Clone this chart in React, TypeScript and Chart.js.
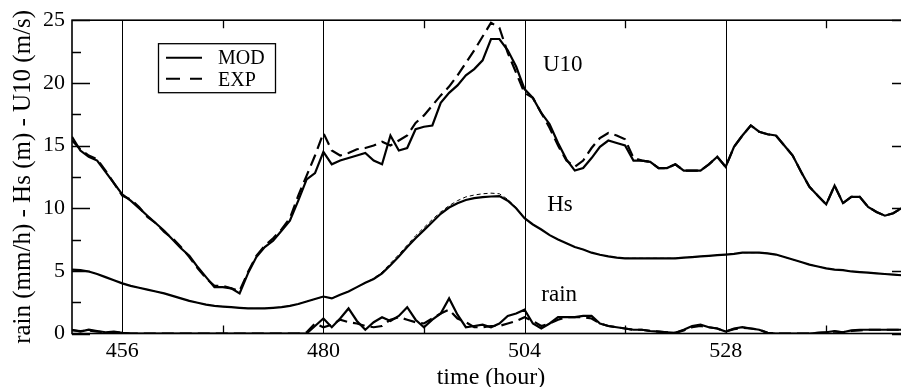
import React, { useEffect, useRef } from "react";
import { Chart, registerables } from "chart.js";

Chart.register(...registerables);

// ---------------- data ----------------
const X_MIN = 450;
const X_MAX = 550;
const X_MAJOR = [456, 480, 504, 528];
const X_MINOR = [468, 492, 516, 540];
const Y_MAJOR = [0, 5, 10, 15, 20, 25];
const Y_MINOR = [2.5, 7.5, 12.5, 17.5, 22.5];

const U10_MOD_T = [450, 451, 452, 453, 454, 455, 456, 457, 458, 459, 460, 461, 462, 463, 464, 465, 466, 467, 468, 469, 470, 471, 472, 473, 474, 475, 476, 477, 478, 479, 480, 481, 482, 483, 484, 485, 486, 487, 488, 489, 490, 491, 492, 493, 494, 495, 496, 497, 498, 499, 500, 501, 502, 503, 504, 505, 506, 507, 508, 509, 510, 511, 512, 513, 514, 515, 516, 517, 518, 519, 520, 521, 522, 523, 524, 525, 526, 527, 528, 529, 530, 531, 532, 533, 534, 535, 536, 537, 538, 539, 540, 541, 542, 543, 544, 545, 546, 547, 548, 549, 550];
const U10_MOD_V = [15.7, 14.6, 14.1, 13.8, 12.9, 12.0, 11.1, 10.6, 10.0, 9.4, 8.8, 8.2, 7.5, 6.8, 6.2, 5.3, 4.5, 3.7, 3.7, 3.6, 3.2, 4.8, 6.1, 6.9, 7.4, 8.2, 9.0, 10.6, 12.3, 12.8, 14.5, 13.5, 13.8, 14.0, 14.2, 14.4, 13.8, 13.5, 15.8, 14.6, 14.8, 16.3, 16.5, 16.6, 18.4, 19.2, 19.8, 20.6, 21.1, 21.8, 23.5, 23.5, 22.6, 21.3, 19.5, 18.8, 17.6, 16.7, 15.2, 13.9, 13.0, 13.2, 14.0, 14.9, 15.4, 15.2, 15.0, 13.8, 13.8, 13.7, 13.2, 13.2, 13.5, 13.0, 13.0, 13.0, 13.5, 14.1, 13.3, 14.9, 15.8, 16.6, 16.1, 15.9, 15.8, 15.0, 14.2, 12.9, 11.7, 11.0, 10.3, 11.8, 10.4, 10.9, 10.9, 10.1, 9.7, 9.4, 9.6, 10.0, 10.3];

const U10_EXP_T = U10_MOD_T;
const U10_EXP_V = [15.4, 14.7, 14.2, 13.9, 13.0, 12.0, 11.0, 10.7, 10.1, 9.3, 8.8, 8.1, 7.6, 6.9, 6.1, 5.2, 4.4, 3.8, 3.8, 3.6, 3.4, 4.9, 6.2, 7.0, 7.6, 8.3, 9.2, 11.0, 12.6, 14.2, 16.0, 14.6, 14.2, 14.4, 14.7, 14.8, 15.0, 15.3, 15.0, 15.4, 15.8, 16.8, 17.4, 18.2, 19.0, 19.7, 20.6, 21.6, 22.6, 23.7, 24.8, 24.4, 22.4, 20.8, 19.2, 18.8, 17.6, 16.4, 15.0, 13.8, 13.3, 13.8, 14.8, 15.6, 16.0, 15.8, 15.5, 14.0, 13.8, 13.7, 13.2, 13.2, 13.5, 13.0, 13.0, 13.0, 13.5, 14.1, 13.3, 14.9, 15.8, 16.6, 16.1, 15.9, 15.8, 15.0, 14.2, 12.9, 11.7, 11.0, 10.3, 11.8, 10.4, 10.9, 10.9, 10.1, 9.7, 9.4, 9.6, 10.0, 10.3];

const HS_T = U10_MOD_T;
const HS_MOD_V = [5.1, 5.05, 4.95, 4.75, 4.5, 4.25, 4.0, 3.8, 3.65, 3.5, 3.35, 3.2, 3.0, 2.8, 2.6, 2.45, 2.3, 2.2, 2.15, 2.1, 2.05, 2.0, 2.0, 2.0, 2.05, 2.1, 2.2, 2.35, 2.55, 2.75, 2.95, 2.8, 3.1, 3.35, 3.7, 4.05, 4.35, 4.8, 5.45, 6.15, 6.9, 7.6, 8.25, 8.9, 9.55, 10.05, 10.4, 10.65, 10.8, 10.88, 10.93, 10.96, 10.6, 10.0, 9.2, 8.7, 8.3, 7.85, 7.5, 7.2, 6.9, 6.7, 6.45, 6.28, 6.15, 6.05, 6.0, 6.0, 6.0, 6.0, 6.0, 6.0, 6.0, 6.05, 6.1, 6.15, 6.2, 6.25, 6.3, 6.35, 6.45, 6.45, 6.45, 6.4, 6.3, 6.1, 5.9, 5.7, 5.5, 5.35, 5.2, 5.1, 5.05, 4.95, 4.9, 4.85, 4.8, 4.75, 4.7, 4.65, 4.6];
const HS_EXP_V = [5.1, 5.05, 4.95, 4.75, 4.5, 4.25, 4.0, 3.8, 3.65, 3.5, 3.35, 3.2, 3.0, 2.8, 2.6, 2.45, 2.3, 2.2, 2.15, 2.1, 2.05, 2.0, 2.0, 2.0, 2.05, 2.1, 2.2, 2.35, 2.55, 2.75, 2.95, 2.8, 3.1, 3.35, 3.7, 4.05, 4.4, 4.9, 5.6, 6.3, 7.05, 7.8, 8.45, 9.1, 9.7, 10.2, 10.6, 10.9, 11.05, 11.15, 11.2, 11.15, 10.7, 10.05, 9.25, 8.7, 8.3, 7.85, 7.5, 7.2, 6.9, 6.7, 6.45, 6.28, 6.15, 6.05, 6.0, 6.0, 6.0, 6.0, 6.0, 6.0, 6.0, 6.05, 6.1, 6.15, 6.2, 6.25, 6.3, 6.35, 6.45, 6.45, 6.45, 6.4, 6.3, 6.1, 5.9, 5.7, 5.5, 5.35, 5.2, 5.1, 5.05, 4.95, 4.9, 4.85, 4.8, 4.75, 4.7, 4.65, 4.6];

const RAIN_T = U10_MOD_T;
const RAIN_MOD_V = [0.3, 0.15, 0.3, 0.2, 0.1, 0.15, 0.05, 0, 0, 0, 0, 0, 0, 0, 0, 0, 0, 0, 0, 0, 0, 0, 0, 0, 0, 0, 0, 0, 0, 0.6, 1.2, 0.5, 1.2, 2.0, 1.0, 0.3, 0.9, 1.3, 1.0, 1.4, 2.1, 1.1, 0.5, 1.1, 1.6, 2.8, 1.5, 0.5, 0.6, 0.7, 0.5, 0.8, 1.4, 1.6, 1.9, 0.8, 0.4, 0.8, 1.3, 1.3, 1.3, 1.4, 1.4, 0.8, 0.6, 0.5, 0.4, 0.3, 0.3, 0.2, 0.15, 0.1, 0.05, 0.3, 0.6, 0.7, 0.5, 0.4, 0.15, 0.4, 0.5, 0.4, 0.3, 0.05, 0, 0, 0, 0, 0, 0.05, 0.1, 0.2, 0.1, 0.25, 0.3, 0.3, 0.3, 0.3, 0.3, 0.3, 0.3];
const RAIN_EXP_V = [0.25, 0.2, 0.25, 0.15, 0.1, 0.1, 0.05, 0, 0, 0, 0, 0, 0, 0, 0, 0, 0, 0, 0, 0, 0, 0, 0, 0, 0, 0, 0, 0, 0.1, 0.8, 0.5, 0.7, 1.1, 0.9, 0.8, 0.6, 0.5, 0.6, 1.1, 1.3, 1.1, 0.9, 0.8, 1.2, 1.6, 1.9, 1.2, 0.9, 0.5, 0.5, 0.6, 0.6, 0.8, 1.0, 1.3, 1.0, 0.6, 0.8, 1.1, 1.3, 1.3, 1.3, 1.2, 0.8, 0.6, 0.5, 0.4, 0.3, 0.3, 0.2, 0.15, 0.1, 0.05, 0.25, 0.5, 0.6, 0.5, 0.4, 0.15, 0.35, 0.45, 0.4, 0.3, 0.05, 0, 0, 0, 0, 0, 0.05, 0.1, 0.15, 0.1, 0.2, 0.25, 0.3, 0.3, 0.3, 0.3, 0.3, 0.3];

const CURVE_LABELS = [
  { text: "U10", x: 506.2, y: 21.4 },
  { text: "Hs", x: 506.7, y: 10.25 },
  { text: "rain", x: 506.0, y: 3.07 },
];
const LEGEND_ITEMS = ["MOD", "EXP"];

const SERIF = "'Liberation Serif', 'Times New Roman', serif";

const pts = (t: number[], v: number[]) => t.map((x, i) => ({ x, y: v[i] }));

const framePlugin = {
  id: "frame",
  beforeDatasetsDraw(chart: any) {
    const { ctx, chartArea: a, scales } = chart;
    const xs = scales.x;
    const ys = scales.y;
    ctx.save();
    ctx.strokeStyle = "#000";
    // vertical reference lines
    ctx.lineWidth = 1;
    X_MAJOR.forEach((v) => {
      const px = Math.round(xs.getPixelForValue(v)) + 0.5;
      ctx.beginPath();
      ctx.moveTo(px, a.top);
      ctx.lineTo(px, a.bottom);
      ctx.stroke();
    });
    ctx.lineWidth = 1.3;
    // x minor ticks, bottom and top
    X_MINOR.forEach((v) => {
      const px = Math.round(xs.getPixelForValue(v)) + 0.5;
      ctx.beginPath();
      ctx.moveTo(px, a.bottom);
      ctx.lineTo(px, a.bottom - 8);
      ctx.moveTo(px, a.top);
      ctx.lineTo(px, a.top + 8);
      ctx.stroke();
    });
    // y ticks, left and right
    Y_MAJOR.forEach((v) => {
      const py = Math.round(ys.getPixelForValue(v)) + 0.5;
      ctx.beginPath();
      ctx.moveTo(a.left, py);
      ctx.lineTo(a.left + 18, py);
      ctx.moveTo(a.right, py);
      ctx.lineTo(a.right - 18, py);
      ctx.stroke();
    });
    Y_MINOR.forEach((v) => {
      const py = Math.round(ys.getPixelForValue(v)) + 0.5;
      ctx.beginPath();
      ctx.moveTo(a.left, py);
      ctx.lineTo(a.left + 9, py);
      ctx.moveTo(a.right, py);
      ctx.lineTo(a.right - 9, py);
      ctx.stroke();
    });
    ctx.restore();
  },
  afterDraw(chart: any) {
    const { ctx, chartArea: a, scales } = chart;
    ctx.save();
    ctx.strokeStyle = "#000";
    ctx.lineWidth = 1.6;
    ctx.strokeRect(a.left, a.top, a.right - a.left, a.bottom - a.top);

    // curve labels
    ctx.fillStyle = "#000";
    ctx.font = `23px ${SERIF}`;
    ctx.textAlign = "left";
    ctx.textBaseline = "middle";
    CURVE_LABELS.forEach((l) => {
      ctx.fillText(l.text, scales.x.getPixelForValue(l.x), scales.y.getPixelForValue(l.y));
    });

    // legend box
    const bx = a.left + 86;
    const by = a.top + 23;
    ctx.fillStyle = "#fff";
    ctx.fillRect(bx, by, 117, 49);
    ctx.lineWidth = 1.3;
    ctx.strokeRect(bx + 0.5, by + 0.5, 117, 49);
    ctx.lineWidth = 2;
    ctx.beginPath();
    ctx.moveTo(bx + 8, by + 14.5);
    ctx.lineTo(bx + 44, by + 14.5);
    ctx.stroke();
    ctx.setLineDash([14, 10]);
    ctx.beginPath();
    ctx.moveTo(bx + 8, by + 35.5);
    ctx.lineTo(bx + 44, by + 35.5);
    ctx.stroke();
    ctx.setLineDash([]);
    ctx.fillStyle = "#000";
    ctx.font = `20px ${SERIF}`;
    ctx.textBaseline = "middle";
    ctx.fillText(LEGEND_ITEMS[0], bx + 60, by + 16);
    ctx.fillText(LEGEND_ITEMS[1], bx + 60, by + 38);
    ctx.restore();
  },
};

export default function App() {
  const ref = useRef<HTMLCanvasElement | null>(null);
  useEffect(() => {
    if (!ref.current) return;
    const solid = (data: any[], w = 2.2) => ({
      data,
      borderColor: "#000",
      borderWidth: w,
      pointRadius: 0,
      tension: 0,
      fill: false,
    });
    const dashed = (data: any[], w = 2.2, dash = [12, 6]) => ({
      ...solid(data, w),
      borderDash: dash,
    });
    const chart = new Chart(ref.current, {
      type: "line",
      data: {
        datasets: [
          { label: "U10 EXP", ...dashed(pts(U10_EXP_T, U10_EXP_V)) },
          { label: "U10 MOD", ...solid(pts(U10_MOD_T, U10_MOD_V)) },
          { label: "Hs EXP", ...dashed(pts(HS_T, HS_EXP_V), 1, [4, 3]) },
          { label: "Hs MOD", ...solid(pts(HS_T, HS_MOD_V)) },
          { label: "rain EXP", ...dashed(pts(RAIN_T, RAIN_EXP_V)) },
          { label: "rain MOD", ...solid(pts(RAIN_T, RAIN_MOD_V)) },
        ],
      },
      options: {
        animation: false,
        responsive: false,
        maintainAspectRatio: false,
        layout: { padding: { left: 0, top: 20, right: 20, bottom: 0 } },
        plugins: { legend: { display: false }, tooltip: { enabled: false } },
        scales: {
          x: {
            type: "linear",
            min: X_MIN,
            max: X_MAX,
            grid: { display: false, drawTicks: false },
            border: { display: false },
            afterBuildTicks: (s: any) => {
              s.ticks = X_MAJOR.map((value) => ({ value }));
            },
            afterFit: (s: any) => {
              s.height = 61.5;
            },
            ticks: {
              color: "#000",
              padding: 5,
              maxRotation: 0,
              autoSkip: false,
              font: { family: SERIF, size: 22 },
              callback: (v: any) => String(v),
            },
            title: {
              display: true,
              text: "time (hour)",
              color: "#000",
              font: { family: SERIF, size: 24 },
              padding: { top: 0, bottom: 2.6 },
            },
          },
          y: {
            type: "linear",
            min: 0,
            max: 25,
            grid: { display: false, drawTicks: false },
            border: { display: false },
            afterBuildTicks: (s: any) => {
              s.ticks = Y_MAJOR.map((value) => ({ value }));
            },
            afterFit: (s: any) => {
              s.width = 72;
            },
            ticks: {
              color: "#000",
              padding: 7,
              font: { family: SERIF, size: 22 },
              callback: (v: any) => String(v),
            },
            title: {
              display: true,
              text: "rain (mm/h) - Hs (m) - U10 (m/s)",
              color: "#000",
              font: { family: SERIF, size: 25 },
              padding: { top: 8, bottom: 0 },
            },
          },
        },
      },
      plugins: [framePlugin],
    });
    return () => chart.destroy();
  }, []);
  return (
    <div
      style={{
        position: "fixed",
        left: 0,
        top: 0,
        width: 901,
        height: 387,
        overflow: "hidden",
        background: "#fff",
      }}
    >
      <canvas ref={ref} width={930} height={395} style={{ width: 930, height: 395, display: "block" }} />
    </div>
  );
}
